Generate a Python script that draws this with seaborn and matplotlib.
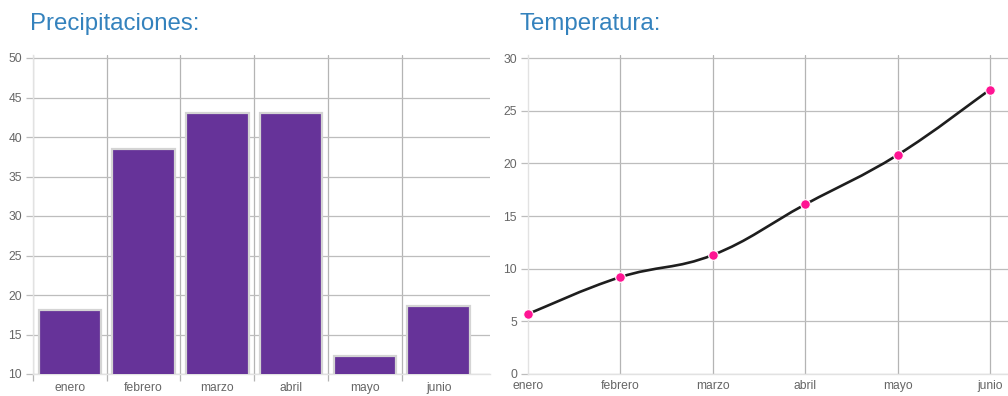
import numpy as np
import pandas as pd
import matplotlib
matplotlib.use("Agg")
import matplotlib.pyplot as plt
from matplotlib.path import Path
from matplotlib.patches import PathPatch
from matplotlib.ticker import FixedLocator
import seaborn as sns

# Monthly data
meses = ["enero", "febrero", "marzo", "abril", "mayo", "junio"]
precipitaciones = [18.1, 38.5, 43.0, 43.0, 12.3, 18.6]
temperatura = [5.7, 9.2, 11.3, 16.1, 20.8, 27.0]

titulo_prec = "Precipitaciones:"
titulo_temp = "Temperatura:"

sns.set_theme(style="white")
plt.rcParams["font.family"] = ["Liberation Sans", "DejaVu Sans"]

W, H = 1008, 396
fig = plt.figure(figsize=(W / 100, H / 100), dpi=100)


def px_axes(x0, x1, y_top, y_bot):
    return fig.add_axes([x0 / W, (H - y_bot) / H, (x1 - x0) / W, (y_bot - y_top) / H])


LABEL = "#666666"
VGRID = "#b4b4b4"
HGRID = "#bdbdbd"
AXIS = "#e2e2e2"
TITLE = "#3482bd"

# ---------- Precipitaciones (bars) ----------
ax1 = px_axes(33, 490, 55, 374)
df_p = pd.DataFrame({"mes": meses, "mm": precipitaciones})
sns.barplot(data=df_p, x="mes", y="mm", ax=ax1, color="#663399",
            saturation=1, width=0.85, edgecolor="#d4d4d4", linewidth=1.6,
            zorder=3)
ax1.set_ylim(10, 50 + 3 / 7.9)
ax1.set_xlim(-0.5, 5.5 + 14.5 / 73.7)
ax1.set_yticks(np.arange(10, 51, 5))
ax1.xaxis.set_minor_locator(FixedLocator(np.arange(-0.5, 5.0, 1.0)))
ax1.grid(True, axis="y", which="major", color=HGRID, linewidth=0.9, zorder=0)
ax1.grid(True, axis="x", which="minor", color=VGRID, linewidth=0.9, zorder=0)
ax1.tick_params(axis="x", which="major", length=0, pad=6, labelsize=8.7, labelcolor=LABEL)
ax1.tick_params(axis="x", which="minor", length=5, width=0.9, color=VGRID, bottom=True)
ax1.tick_params(axis="y", length=5, width=0.9, color=HGRID, left=True, pad=3,
                labelsize=8.7, labelcolor=LABEL)
ax1.set_xlabel("")
ax1.set_ylabel("")

# ---------- Temperatura (smooth line) ----------
ax2 = px_axes(528, 1008, 55, 374)
xs = np.arange(len(meses))
ax2.set_xlim(0, 5 + 18 / 92.4)
ax2.set_ylim(0, 30 + 3 / 10.53)

# cubic Bezier path through the points (tension-style smoothing)
tension = 0.4
verts = [(xs[0], temperatura[0])]
codes = [Path.MOVETO]
n = len(xs)
for i in range(n - 1):
    x0, y0 = xs[i], temperatura[i]
    x1, y1 = xs[i + 1], temperatura[i + 1]
    xp, yp = (xs[i - 1], temperatura[i - 1]) if i > 0 else (x0, y0)
    xn, yn = (xs[i + 2], temperatura[i + 2]) if i + 2 < n else (x1, y1)
    c1 = (x0 + (x1 - xp) * tension / 2, y0 + (y1 - yp) * tension / 2)
    c2 = (x1 - (xn - x0) * tension / 2, y1 - (yn - y0) * tension / 2)
    verts += [c1, c2, (x1, y1)]
    codes += [Path.CURVE4] * 3
ax2.add_patch(PathPatch(Path(verts, codes), facecolor="none", edgecolor="#1e1e1e",
                        linewidth=1.9, zorder=3))

df_t = pd.DataFrame({"x": xs, "t": temperatura})
sns.scatterplot(data=df_t, x="x", y="t", ax=ax2, color="#ff1493", s=48,
                edgecolor="white", linewidth=0.8, zorder=4, clip_on=False)

ax2.set_xticks(xs)
ax2.set_xticklabels(meses)
ax2.set_yticks(np.arange(0, 31, 5))
ax2.grid(True, axis="y", color=HGRID, linewidth=0.9, zorder=0)
ax2.grid(True, axis="x", color=VGRID, linewidth=0.9, zorder=0)
ax2.get_xgridlines()[0].set_visible(False)
ax2.tick_params(axis="x", length=0, pad=4, labelsize=8.7, labelcolor=LABEL)
ax2.tick_params(axis="y", length=5, width=0.9, color=HGRID, left=True, pad=3,
                labelsize=8.7, labelcolor=LABEL)
ax2.set_xlabel("")
ax2.set_ylabel("")

for ax in (ax1, ax2):
    for side in ("top", "right"):
        ax.spines[side].set_visible(False)
    for side in ("left", "bottom"):
        ax.spines[side].set_color(AXIS)
        ax.spines[side].set_linewidth(1.0)
    ax.set_facecolor("white")

fig.text(30 / W, (H - 30) / H, titulo_prec, fontsize=17.3, color=TITLE,
         ha="left", va="baseline")
fig.text(520 / W, (H - 30) / H, titulo_temp, fontsize=17.3, color=TITLE,
         ha="left", va="baseline")

fig.savefig("out.png", dpi=100, facecolor="white")
